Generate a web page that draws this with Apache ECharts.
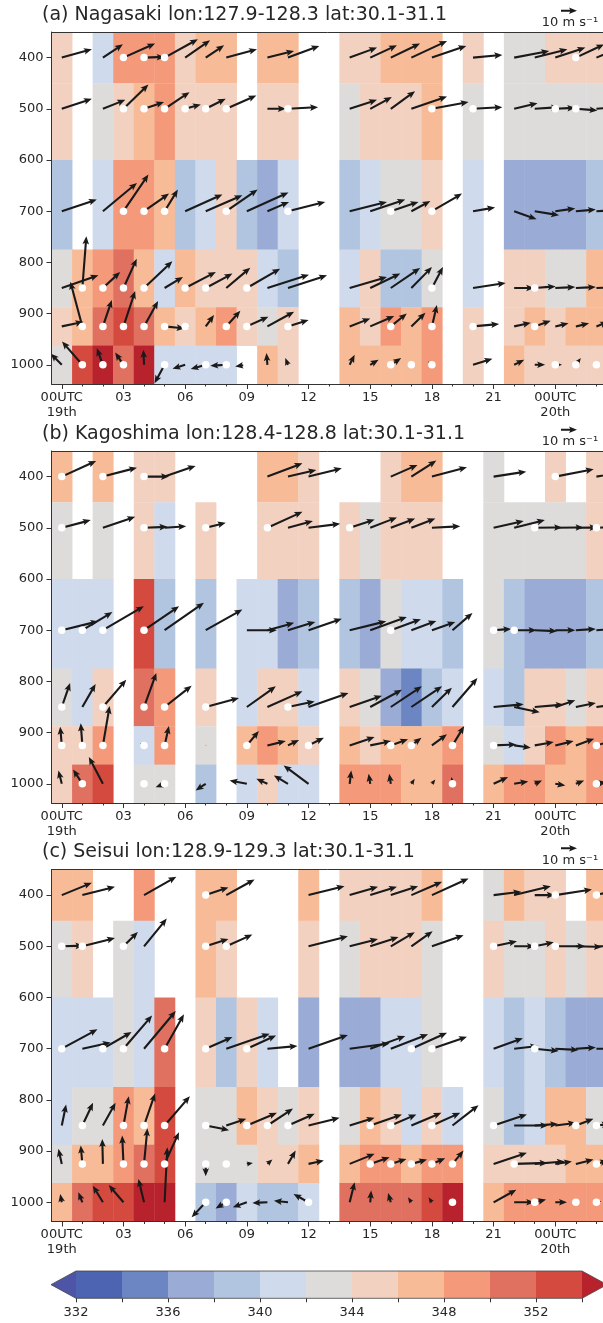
<!DOCTYPE html>
<html>
<head>
<meta charset="utf-8">
<script src="https://cdn.jsdelivr.net/npm/echarts@6/dist/echarts.min.js"></script>
<style>
  html, body { margin: 0; padding: 0; background: #fff; }
  #chart { width: 603px; height: 1323px; }
</style>
</head>
<body>
<div id="chart"></div>
<script>
// pressure levels and the cell bounds around them (hPa)
const levels = [400, 500, 700, 850, 925, 1000];
const rowTop = [350, 450, 600, 775, 887.5, 962.5];
const rowBottom = [450, 600, 775, 887.5, 962.5, 1037.5];

const timeTicks = [0, 3, 6, 9, 12, 15, 18, 21, 24];
const timeLabels = ['00UTC\n19th', '03', '06', '09', '12', '15', '18', '21', '00UTC\n20th'];
const hourTicks = [0, 1, 2, 3, 4, 5, 6, 7, 8, 9, 10, 11, 12, 13, 14, 15, 16, 17, 18, 19, 20, 21, 22, 23, 24, 25, 26];
const pressureTicks = [400, 500, 600, 700, 800, 900, 1000];

// colour bins (K), first/last colours are the extensions
const cbEdges = [332, 334, 336, 338, 340, 342, 344, 346, 348, 350, 352, 354];
const cbColors = ['#4e55a6', '#4c64b1', '#6c86c4', '#9aabd6', '#b1c5e1', '#cfdaed', '#dedcdb',
  '#f3d1c0', '#f8bb98', '#f49a7b', '#e07060', '#d44a3f', '#b8222c'];

const titles = [
  '(a) Nagasaki lon:127.9-128.3 lat:30.1-31.1',
  '(b) Kagoshima lon:128.4-128.8 lat:30.1-31.1',
  '(c) Seisui lon:128.9-129.3 lat:30.1-31.1'
];

// theta-e per level (rows 400..1000), hours 0..26 of 19th
const thetaA = [
  [345, null, 341, 349, 349, 349, 345, 347, 347, null, 347, 347, null, null, 345, 345, 347, 347, 347, null, 345, null, 343, 343, 345, 345, 345],
  [345, null, 343, 345, 347, 349, 345, 345, 345, null, 345, 345, null, null, 343, 345, 345, 345, 347, null, 343, null, 343, 343, 343, 343, 343],
  [339, null, 341, 349, 349, 347, 339, 341, 345, 339, 337, 341, null, null, 339, 341, 343, 343, 345, null, 341, null, 337, 337, 337, 337, 339],
  [343, 347, 349, 351, 347, 341, 347, 345, 345, 345, 341, 339, null, null, 341, 345, 339, 339, 343, null, 341, null, 345, 345, 343, 343, 347],
  [345, 347, 351, 353, 351, 347, 345, 347, 349, 345, 343, 345, null, null, 347, 345, 349, 347, 349, null, 345, null, 345, 347, 345, 347, 347],
  [343, 353, 355, 351, 355, 341, 341, 341, 341, null, 347, 345, null, null, 347, 347, 347, 347, 349, null, 345, null, 347, 345, 345, 345, 345]
];
const thetaB = [
  [347, null, 347, null, 345, 345, null, null, null, null, 347, 347, 345, null, null, null, 345, 347, 347, null, null, 343, null, null, 345, null, 345],
  [343, null, 343, null, 345, 341, null, 345, null, null, 345, 345, 345, null, 345, 343, 345, 345, 345, null, null, 343, 343, 343, 343, 343, 345],
  [341, 341, 341, null, 353, 339, null, 339, null, 341, 341, 337, 339, null, 339, 337, 343, 341, 341, 339, null, 343, 339, 337, 337, 337, 339],
  [343, 341, 345, null, 351, 349, null, 345, null, 341, 345, 345, 341, null, 345, 343, 337, 335, 339, 341, null, 341, 339, 345, 345, 343, 345],
  [345, 345, 349, null, 341, 349, null, 343, null, 347, 349, 347, 345, null, 347, 345, 347, 347, 347, 349, null, 343, 341, 345, 349, 347, 349],
  [345, 351, 353, null, 343, 343, null, 339, null, 341, 345, 341, 341, null, 349, 349, 349, 347, 347, 351, null, 347, 349, 349, 347, 347, 349]
];
const thetaC = [
  [347, 347, null, null, 349, null, null, 347, 347, null, null, null, 347, null, 345, 345, 345, 345, 347, null, null, 343, 347, 345, 345, null, 347],
  [343, 345, null, 343, 341, null, null, 347, 345, null, null, null, 345, null, 343, 345, 345, 345, 343, null, null, 345, 343, 343, 345, 343, 345],
  [341, 341, 341, 343, 341, 351, null, 345, 339, 345, 341, null, 337, null, 337, 337, 341, 341, 343, null, null, 341, 339, 341, 339, 337, 337],
  [341, 343, 343, 349, 347, 353, null, 343, 343, 347, 345, 343, 345, null, 343, 347, 345, 341, 345, 341, null, 343, 339, 341, 347, 347, 343],
  [343, 347, 347, 349, 351, 353, null, 343, 343, 343, 345, 345, 347, null, 347, 349, 349, 347, 349, 349, null, 345, 345, 345, 345, 347, 347],
  [347, 351, 353, 353, 355, 355, null, 339, 337, 341, 339, 339, 341, null, 351, 351, 351, 351, 353, 355, null, 347, 349, 349, 349, 349, 349]
];

// wind per level: [hour, u, v] in m/s
const windA = [
  [[0, 18.8, 5.2], [2, 12.5, 8.3], [3, 19.8, 8.8], [4, 12.9, 0.4], [5, 20.8, 11.5], [6, 15.6, 10.8], [7, 11.5, 7.7], [8, 19.2, 5.2], [10, 16.7, 4.2], [11, 19.6, 7.3], [14, 17.1, 6.3], [15, 16.7, 7.7], [16, 18.3, 8.8], [17, 22.3, 10.4], [18, 21.5, 7.3], [20, 18.3, 1.7], [22, 21.9, 4.2], [23, 20.4, 5.2], [24, 18.8, 6.3], [25, 17.7, 8.3], [26, 17.7, 7.3]],
  [[0, 18.8, 6.3], [2, 14, 5.6], [3, 15.6, 15.2], [4, 12.5, 4.2], [5, 15.6, 10.4], [6, 9.8, 2.7], [7, 12.5, 6.3], [8, 18.8, 8.3], [10, 11.5, 0], [11, 18.8, 1], [14, 17.1, 5.6], [15, 13.5, 7.3], [16, 15.2, 11], [17, 22.3, 7.7], [18, 22.9, 4.2], [20, 18.3, 1], [22, 14.6, 3.5], [23, 15.2, 1], [24, 12.5, 0.6], [25, 13.5, -1], [26, 12.5, 1]],
  [[0, 21.9, 7.3], [2, 21.3, 17.7], [3, 15.6, 22.9], [4, 15.6, 11], [5, 8.3, 13.5], [6, 23.3, 10.4], [7, 22.9, 10], [8, 19.6, 13.5], [9, 26, 11.7], [10, 13.5, 5.8], [11, 23.3, 5.8], [14, 23.3, 5.8], [15, 21.9, 7.3], [16, 17.3, 5.8], [17, 11.9, 6.3], [18, 18.8, 11], [20, 13.8, 2.3], [22, 14, -5], [23, 15.2, -2.5], [24, 12.5, 1.7], [25, 12.5, 1], [26, 12.5, 0.6]],
  [[0, 22.9, 7.9], [1, 2.5, 32.3], [2, 10.8, 10], [3, 8.3, 18.3], [4, 17.7, 16.7], [5, 11.5, 6.9], [6, 19.2, 10], [7, 16.7, 9], [8, 15, 12.7], [9, 20.8, 12.1], [10, 26, 8.3], [11, 24.4, 7.9], [14, 23.3, 6.9], [15, 18.8, 9], [16, 18.3, 12.5], [17, 12.9, 13.1], [18, 6.9, 13.1], [20, 20.4, 3.1], [22, 12.5, 0], [23, 13.1, 1], [24, 12.5, 0.6], [25, 12.5, 0.6], [26, 12.5, 0.6]],
  [[0, 13.5, 2.9], [1, -7.5, 27.9], [2, 5.6, 16.5], [3, 7.3, 22.1], [4, 8.8, 15.8], [5, 12.5, -1.3], [6, 2.5, -0.6], [7, 5.2, 7.1], [8, 8.8, 9.8], [9, 13.5, 6], [10, 16.7, 9.2], [11, 12.9, 4], [14, 12.9, 5], [15, 15, 6.5], [16, 10, 8.1], [17, 8.8, 8.5], [18, 3.1, 13.3], [20, 16.3, 1.5], [22, 10.4, 2.3], [23, 10, 3.5], [24, 8.3, 1.9], [25, 8.3, 1.9], [26, 7.3, 2.9]],
  [[0, -6.9, 6.9], [1, -12.7, 14.6], [2, -3.8, 10.4], [3, -5.2, 7.7], [4, -0.4, 9.4], [5, -6.3, -11.5], [6, -7.9, -2.5], [7, -9.4, -2.7], [8, -10, -0.6], [9, -7.3, -1], [10, -0.6, 7.3], [11, -1.7, 4.2], [14, 3.1, 6.3], [15, 5.2, 3.1], [16, 6.5, 4.2], [17, 1.5, 0.4], [18, -2.5, 2.1], [20, 12.1, 3.8], [22, 6.3, 3.1], [23, 6.5, 0], [24, 4.2, 0], [25, 3.1, 4.2], [26, 2.1, 1]]
];
const windB = [
  [[0, 21.5, 9.8], [2, 21.3, 5.6], [4, 15.6, 0], [5, 19.4, 6.7], [10, 21.9, 8.3], [11, 17.7, 4.2], [12, 20.8, 5.2], [16, 16.7, 7.3], [17, 15.6, 10], [18, 21.9, 5.8], [21, 20.4, 3.1], [24, 24, 4.6], [26, 18.8, 3.1]],
  [[0, 18.1, 4.8], [2, 20.2, 6.9], [4, 14.6, 0.6], [5, 13.5, 1], [7, 12.5, 3.1], [10, 21.9, 10], [11, 15.6, 4.2], [12, 19.8, 2.5], [14, 15.6, 5.2], [15, 16.7, 6.5], [16, 15.2, 5.8], [17, 15, 5.8], [18, 17.7, 1], [21, 18.8, 4.2], [22, 19.2, 4.8], [23, 17.1, 0.2], [24, 17.7, 0.2], [25, 13.5, 0.2], [26, 11.5, 0.6]],
  [[0, 22.9, 5.6], [1, 18.8, 11.3], [2, 25.6, 15], [4, 21.9, 15], [5, 24.6, 17.1], [7, 22.9, 12.9], [9, 18.8, 0], [10, 16.7, 4.6], [11, 17.1, 5.2], [12, 20.8, 7.1], [14, 22.9, 5.6], [15, 22.9, 8.3], [16, 18.8, 6.9], [17, 15.6, 5.8], [18, 14.6, 5.2], [19, 12.5, 10.8], [21, 11, 0.8], [22, 14, 0], [23, 14, -0.6], [24, 12.5, 0], [25, 12.5, 0.8], [26, 12.5, 0.8]],
  [[0, 5.2, 15], [1, 8.3, 14.4], [2, 14.6, 17.1], [4, 7.7, 21.3], [5, 16.9, 13.3], [7, 20.8, 5.6], [9, 18.1, 12.9], [10, 21.9, 9.8], [11, 16.7, 3.5], [12, 25, 8.8], [14, 20.2, 7.1], [15, 19.8, 10.8], [16, 19.4, 12.9], [17, 19.2, 12.9], [18, 12.5, 12.1], [19, 15.6, 18.1], [21, 18.8, 1.7], [22, 16, -3.3], [23, 18.1, 1.5], [24, 12.5, 4.2], [25, 12.5, 2.5], [26, 11.5, 1.5]],
  [[0, -1, 11.7], [1, -1, 13.8], [2, 4.2, 24.6], [4, -2.5, 1.3], [5, 2.7, 12.1], [7, 0.4, 0.4], [9, 7.5, 9], [10, 11.5, 2.7], [11, 6.9, 3.3], [12, 9.6, 4.8], [14, 15.6, 5.2], [15, 13.1, 2.7], [16, 10.8, 3.8], [17, 6.3, 4.8], [18, 9.4, 6.9], [19, 7.3, 12.1], [21, 14.2, 0.6], [22, 10.4, -1.5], [23, 11.9, 2.1], [24, 11.5, 2.7], [25, 11.5, 4.2], [26, 9.4, 2.7]],
  [[0, -2.1, 8.3], [1, -5.8, 9], [2, -8.8, 16.7], [5, -5.6, -2.1], [7, -6.3, -4.2], [9, -10.8, 2.1], [10, -6.9, 3.1], [11, -8.8, 5.2], [12, -15.6, 11.5], [14, 1, 8.3], [15, -1, 6.3], [16, -1, 6.3], [17, 2.1, 3.1], [18, 2.1, 2.7], [19, -0.6, 4.2], [21, 9, 4.2], [22, 8.8, 1.5], [23, 4.6, 2.1], [24, 6.3, -1], [25, 5.2, 2.1], [26, 6.3, 1]]
];
const windC = [
  [[0, 18.8, 7.7], [1, 20.4, 5.2], [4, 20.2, 11.5], [7, 14.2, 4.8], [8, 17.7, 9.8], [12, 22.5, 5.6], [14, 17.7, 5.2], [15, 16.7, 5.2], [16, 17.1, 5.6], [17, 19.2, 8.3], [18, 22.9, 10.4], [21, 17.3, 2.1], [22, 22.9, 5.6], [23, 12.5, 0], [24, 22.9, 3.5], [26, 11.5, 3.1]],
  [[0, 13.5, 0.4], [1, 20.4, 5.2], [3, 9, 9], [4, 14.2, 17.3], [7, 14.2, 4.6], [8, 16.3, 7.3], [12, 24.6, 6.3], [14, 17.7, 4.6], [15, 17.7, 5.8], [16, 15, 8.8], [17, 13.3, 9.4], [18, 19.8, 6.9], [21, 14.6, 3.1], [22, 12.9, 0], [23, 11.9, 2.5], [24, 18.8, 0], [25, 16.3, -0.4], [26, 12.5, 0]],
  [[0, 22.3, 12.1], [1, 17.7, 3.8], [2, 17.9, 10.4], [3, 17.9, 20.8], [4, 19.8, 23.5], [5, 12.1, 21.5], [7, 16.7, 7.3], [8, 27.1, 9.4], [9, 18.3, 8.3], [10, 18.8, 1.7], [12, 24.6, 8.5], [14, 25, 3.3], [15, 21.9, 7.9], [16, 23.3, 9], [17, 22.3, 10], [18, 21.9, 7.5], [21, 18.3, 6.5], [22, 15, 1.7], [23, 15, -1.5], [24, 14.6, -0.8], [25, 12.5, 0.8], [26, 11.5, 0]],
  [[0, 2.7, 13.1], [1, 6.7, 14.2], [2, 7.9, 14.2], [3, 3.3, 18.3], [4, 6.9, 20], [5, 15.8, 18.3], [7, 14.6, -2.9], [8, 12.5, 4.2], [9, 18.8, 7.9], [10, 16, 10.6], [11, 16.7, 7.3], [12, 19.4, 4.8], [14, 15.6, 4.8], [15, 19.8, 6.9], [16, 16, 6.9], [17, 18.8, 7.9], [18, 17.7, 7.9], [19, 16.3, 12.7], [21, 20.8, 6.9], [22, 21.3, 0], [23, 14.6, 1], [24, 12.9, 1.7], [25, 11, 4.2], [26, 8.3, 1]],
  [[0, -2.1, 9.4], [1, -1, 11.5], [2, -0.4, 15.6], [3, -0.8, 17.7], [4, 2.1, 22.3], [5, 9, 19.8], [7, 0, -7.7], [9, 3.8, 0.6], [10, 3.1, 2.7], [11, 4.8, 8.3], [12, 9.6, 2.1], [14, 15.6, 6.3], [15, 12.1, 4.2], [16, 9.8, 3.1], [17, 9.8, 2.7], [18, 8.3, 3.5], [19, 6.9, 8.3], [21, 20.8, 6.9], [22, 20.8, 0.6], [23, 18.8, 1.5], [24, 10.4, 1.5], [25, 11, 2.7], [26, 7.3, 2.1]],
  [[0, -1, 5.2], [1, -2.5, 6.3], [2, -6.3, 10.4], [3, -9.2, 10.8], [4, -3.5, 14.6], [5, 1.7, 34.4], [7, -8.8, -9.4], [8, -6.7, -3.8], [9, -8.8, -3.1], [10, -9.4, -0.4], [11, -8.8, 1], [12, -9.4, 5.2], [14, 3.1, 12.5], [15, 0.6, 7.3], [16, -1.7, 5.8], [17, -2.1, 3.1], [18, -2.1, 3.1], [19, 0, 2.1], [21, 14.2, 7.9], [22, 12.5, 0], [23, 7.1, 1.7], [24, 7.3, 0], [25, 2.1, 0], [26, 3.1, 0.6]]
];

// hours with a white marker, per level
const dotsA = [[3, 4, 5, 25], [3, 4, 5, 6, 7, 8, 11, 18, 20, 24, 25], [3, 4, 5, 8, 11, 16, 18], [1, 2, 3, 4, 6, 7, 9, 18, 23], [1, 2, 3, 4, 5, 6, 8, 9, 11, 16, 18, 20, 23], [1, 2, 3, 5, 7, 8, 9, 16, 17, 18, 24, 25, 26]];
const dotsB = [[0, 2, 4, 24], [0, 4, 7, 10, 14, 23, 26], [0, 1, 2, 4, 16, 21, 22], [0, 2, 4, 5, 7, 11], [0, 1, 2, 4, 5, 9, 12, 16, 17, 19, 21, 26], [1, 4, 5, 19, 26]];
const dotsC = [[7, 24, 26], [0, 1, 3, 7, 8, 21, 23, 24], [0, 2, 3, 5, 7, 9, 17, 18, 23], [1, 3, 4, 5, 7, 9, 10, 11, 15, 16, 18, 21, 25, 26], [1, 3, 4, 5, 7, 8, 15, 16, 17, 18, 19, 22, 26], [7, 8, 12, 19, 23, 25, 26]];

const panels = [
  { theta: thetaA, wind: windA, dots: dotsA },
  { theta: thetaB, wind: windB, dots: dotsB },
  { theta: thetaC, wind: windC, dots: dotsC }
];

/*-------------------------------------------------------*/
const FONT = 'DejaVu Sans';
const K = 1.6;            // px per m/s (10 m/s key = 16px)
const panelTop = [32, 451, 869.5];
const panelH = 352;
const plotLeft = 51.5;
const xMax = 26.32;       // plot runs to the right edge of the page

const colorOf = (v) => {
  if (v < cbEdges[0]) return cbColors[0];
  for (let i = 1; i < cbEdges.length; i++) {
    if (v < cbEdges[i]) return cbColors[i];
  }
  return cbColors[cbColors.length - 1];
};

const arrowPoints = (x, y, dx, dy) => {
  const len = Math.hypot(dx, dy);
  if (len < 0.3) return null;
  let sw = 1.05, hl = 8, hw = 3.3, notch = 1.2;
  if (len < hl) {
    const s = len / hl;
    sw *= s; hl *= s; hw *= s; notch *= s;
  }
  const ux = dx / len, uy = dy / len, nx = -uy, ny = ux;
  const b = len - hl;
  return [[0, -sw], [b + notch, -sw], [b, -hw], [len, 0], [b, hw], [b + notch, sw], [0, sw]]
    .map(([a, c]) => [x + ux * a + nx * c, y + uy * a + ny * c]);
};

const grids = [], xAxes = [], yAxes = [], series = [], graphics = [];

panels.forEach((p, gi) => {
  grids.push({ left: plotLeft, top: panelTop[gi], right: 0, height: panelH, show: false });

  xAxes.push({
    gridIndex: gi, type: 'value', position: 'bottom', min: -0.5, max: xMax, z: 10,
    axisLine: { show: true, onZero: false, lineStyle: { color: '#333', width: 1 } },
    axisTick: { show: true, length: 5, customValues: timeTicks, lineStyle: { color: '#333' } },
    axisLabel: {
      show: true, customValues: timeTicks, margin: 6, fontSize: 13, fontFamily: FONT, color: '#262626',
      lineHeight: 15, formatter: (v) => timeLabels[timeTicks.indexOf(Math.round(v))]
    },
    splitLine: { show: false }
  });
  xAxes.push({
    gridIndex: gi, type: 'value', position: 'bottom', min: -0.5, max: xMax, z: 10,
    axisLine: { show: false, onZero: false },
    axisTick: { show: true, length: 2.5, customValues: hourTicks, lineStyle: { color: '#333' } },
    axisLabel: { show: false },
    splitLine: { show: false }
  });
  xAxes.push({
    gridIndex: gi, type: 'value', position: 'top', min: -0.5, max: xMax, z: 10,
    axisLine: { show: true, onZero: false, lineStyle: { color: '#333', width: 1 } },
    axisTick: { show: false }, axisLabel: { show: false }, splitLine: { show: false }
  });
  yAxes.push({
    gridIndex: gi, type: 'value', inverse: true, min: 350, max: 1037.5, z: 10,
    axisLine: { show: true, onZero: false, lineStyle: { color: '#333', width: 1 } },
    axisTick: { show: true, length: 5, customValues: pressureTicks, lineStyle: { color: '#333' } },
    axisLabel: {
      show: true, customValues: pressureTicks, margin: 8, fontSize: 13, fontFamily: FONT, color: '#262626',
      formatter: (v) => String(Math.round(v))
    },
    splitLine: { show: false }
  });

  const cells = [];
  p.theta.forEach((row, li) => row.forEach((v, h) => { if (v != null) cells.push([h, li, v]); }));
  series.push({
    type: 'custom', xAxisIndex: gi * 3, yAxisIndex: gi, z: 1, clip: true, silent: true,
    data: cells,
    renderItem: (params, api) => {
      const h = api.value(0), li = api.value(1);
      const a = api.coord([h - 0.5, rowTop[li]]);
      const b = api.coord([h + 0.5, rowBottom[li]]);
      return {
        type: 'rect',
        shape: { x: a[0], y: a[1], width: b[0] - a[0] + 0.4, height: b[1] - a[1] + 0.4 },
        style: { fill: colorOf(api.value(2)) }
      };
    }
  });

  const arrows = [];
  p.wind.forEach((row, li) => row.forEach(([h, u, v]) => arrows.push([h, levels[li], u, v])));
  series.push({
    type: 'custom', xAxisIndex: gi * 3, yAxisIndex: gi, z: 3, clip: true, silent: true,
    data: arrows,
    renderItem: (params, api) => {
      const t = api.coord([api.value(0), api.value(1)]);
      const pts = arrowPoints(t[0], t[1], api.value(2) * K, -api.value(3) * K);
      if (!pts) return null;
      return { type: 'polygon', shape: { points: pts }, style: { fill: '#1a1a1a' } };
    }
  });

  const dots = [];
  p.dots.forEach((row, li) => row.forEach((h) => dots.push([h, levels[li]])));
  series.push({
    type: 'scatter', xAxisIndex: gi * 3, yAxisIndex: gi, z: 4, silent: true,
    symbol: 'circle', symbolSize: 7.5, itemStyle: { color: '#ffffff', opacity: 1 },
    data: dots
  });

  // title and 10 m/s key
  const top = panelTop[gi];
  graphics.push({
    type: 'text', x: 42, y: top - 17, z: 20,
    style: { text: titles[gi], font: `19px "${FONT}"`, fill: '#262626', verticalAlign: 'middle', textVerticalAlign: 'middle' }
  });
  graphics.push({
    type: 'polygon', z: 20,
    shape: { points: arrowPoints(561, top - 21.3, 10 * K, 0) },
    style: { fill: '#1a1a1a' }
  });
  graphics.push({
    type: 'text', x: 570, y: top - 9, z: 20,
    style: { text: '10 m s\u207B\u00B9', font: `13px "${FONT}"`, fill: '#262626', align: 'center', textAlign: 'center', verticalAlign: 'middle', textVerticalAlign: 'middle' }
  });
});

// colorbar
grids.push({ left: 76, top: 1271, width: 506, height: 27.3, show: false });
xAxes.push({
  gridIndex: 3, type: 'value', min: 332, max: 354, interval: 2, position: 'bottom', z: 10,
  axisLine: { show: false, onZero: false },
  axisTick: { show: true, length: 4, lineStyle: { color: '#333' } },
  axisLabel: {
    show: true, margin: 8, fontSize: 13, fontFamily: FONT, color: '#262626',
    formatter: (v) => ((Math.round(v) - 332) % 4 === 0 && v < 354 ? String(Math.round(v)) : '')
  },
  splitLine: { show: false }
});
yAxes.push({ gridIndex: 3, type: 'value', min: 0, max: 1, show: false });

const cbBins = [];
cbColors.forEach((c, i) => cbBins.push([i]));
series.push({
  type: 'custom', xAxisIndex: 9, yAxisIndex: 3, clip: false, silent: true, z: 2,
  data: cbBins,
  renderItem: (params, api) => {
    const i = api.value(0);
    const y0 = api.coord([332, 1])[1], y1 = api.coord([332, 0])[1];
    const ym = (y0 + y1) / 2;
    if (i === 0) {
      const x = api.coord([332, 0])[0];
      return { type: 'polygon', shape: { points: [[x, y0], [x - 25, ym], [x, y1]] }, style: { fill: cbColors[0] } };
    }
    if (i === cbColors.length - 1) {
      const x = api.coord([354, 0])[0];
      return { type: 'polygon', shape: { points: [[x, y0], [x + 25, ym], [x, y1]] }, style: { fill: cbColors[i] } };
    }
    const a = api.coord([cbEdges[i - 1], 1]), b = api.coord([cbEdges[i], 0]);
    return { type: 'rect', shape: { x: a[0], y: a[1], width: b[0] - a[0] + 0.4, height: b[1] - a[1] }, style: { fill: cbColors[i] } };
  }
});
series.push({
  type: 'custom', xAxisIndex: 9, yAxisIndex: 3, clip: false, silent: true, z: 5,
  data: [[0]],
  renderItem: (params, api) => {
    const l = api.coord([332, 0])[0], r = api.coord([354, 0])[0];
    const y0 = api.coord([332, 1])[1], y1 = api.coord([332, 0])[1];
    const ym = (y0 + y1) / 2;
    return {
      type: 'polygon',
      shape: { points: [[l - 25, ym], [l, y0], [r, y0], [r + 25, ym], [r, y1], [l, y1]] },
      style: { fill: 'none', stroke: '#444', lineWidth: 0.8 }
    };
  }
});

const chart = echarts.init(document.getElementById('chart'), null, { renderer: 'canvas' });
chart.setOption({
  animation: false,
  backgroundColor: '#ffffff',
  textStyle: { fontFamily: FONT },
  grid: grids,
  xAxis: xAxes,
  yAxis: yAxes,
  series,
  graphic: graphics
});
</script>
</body>
</html>
